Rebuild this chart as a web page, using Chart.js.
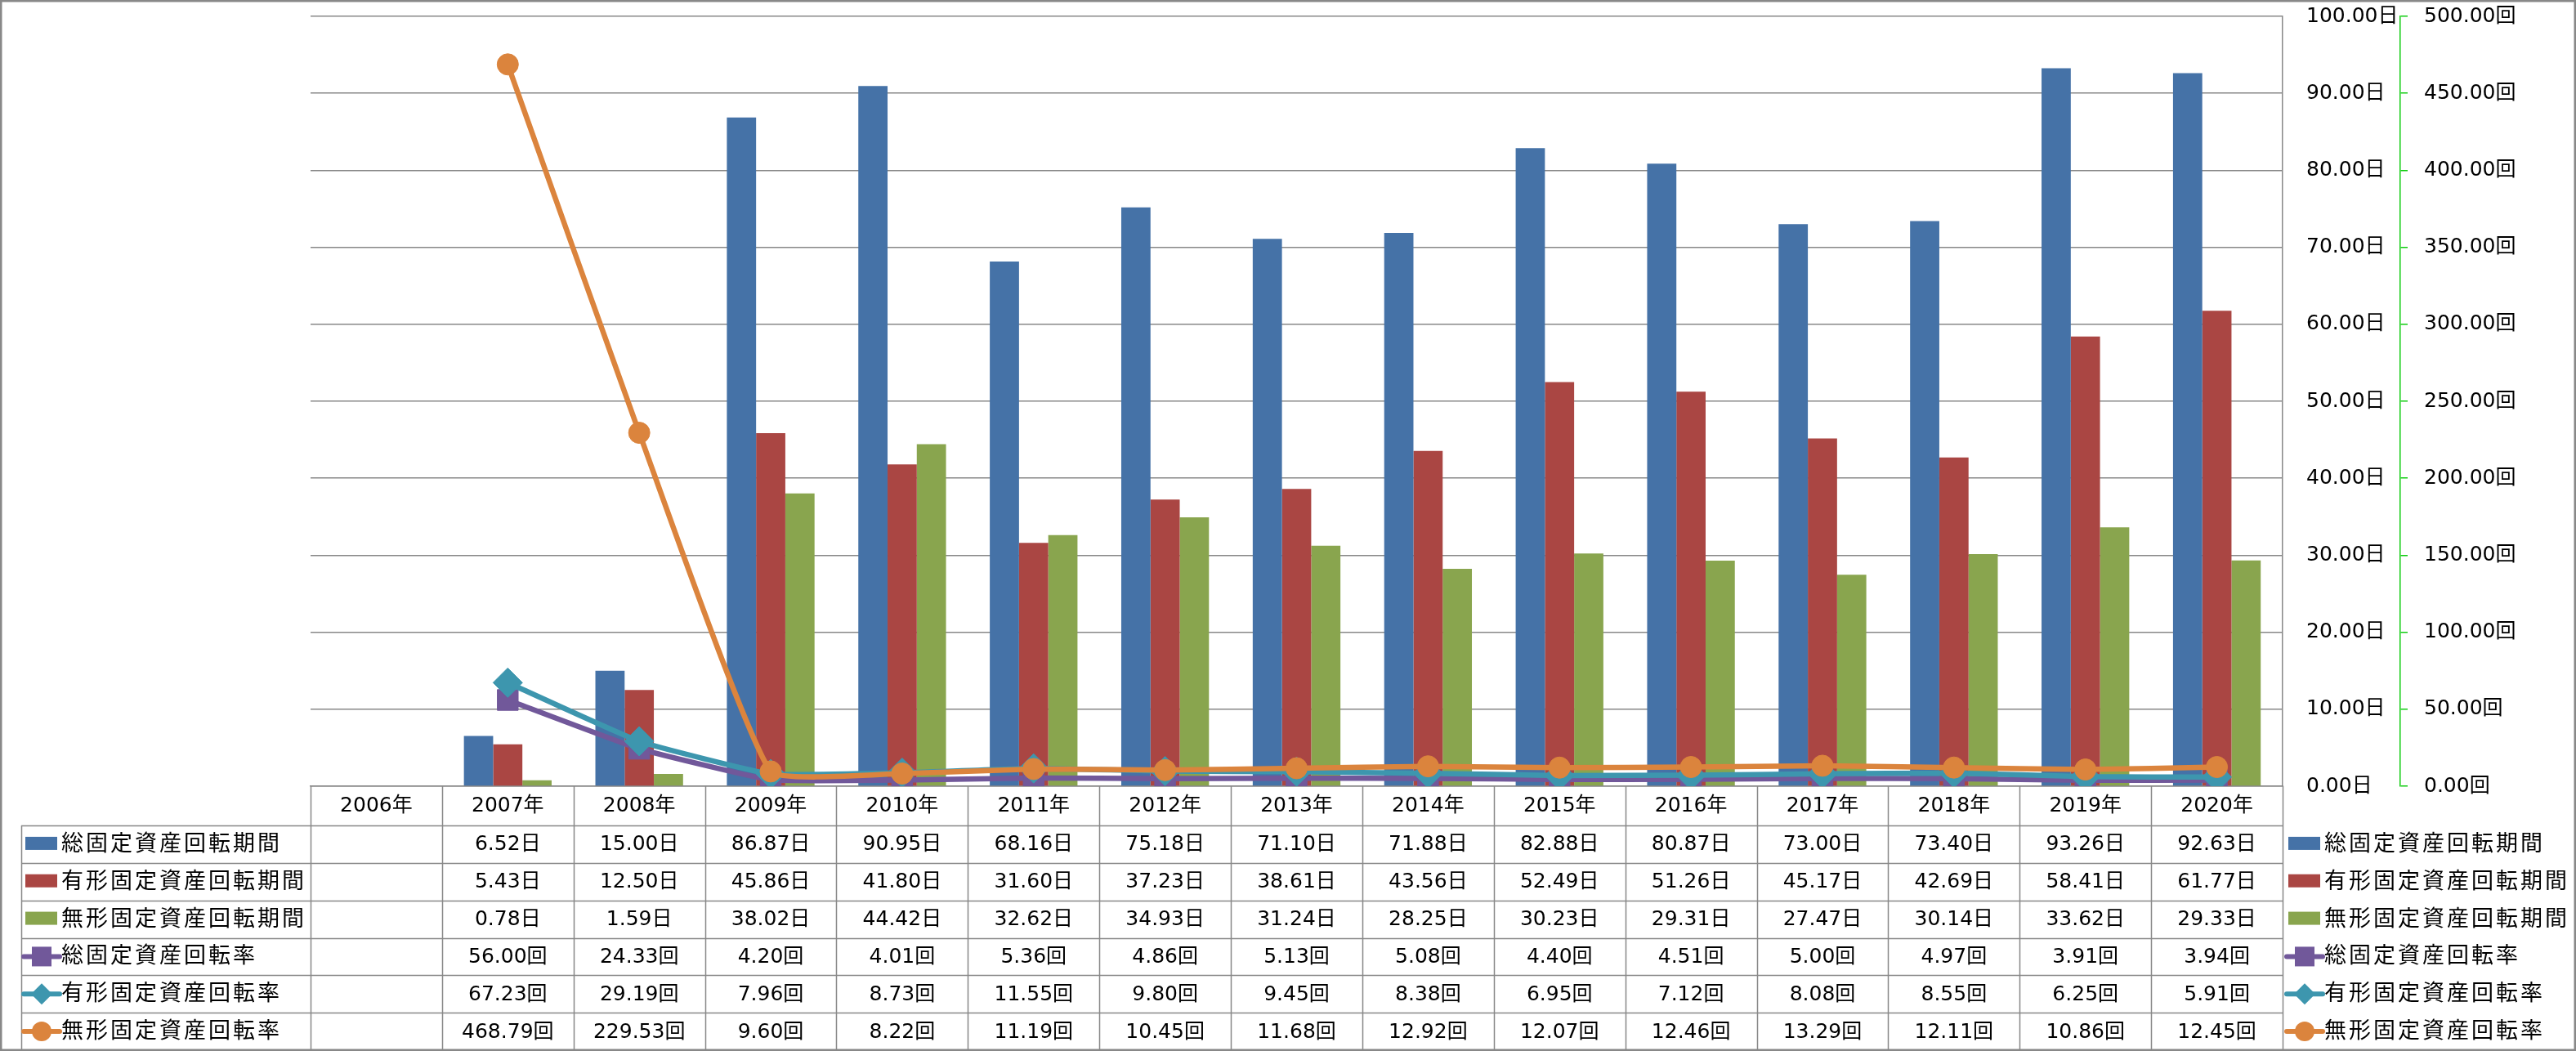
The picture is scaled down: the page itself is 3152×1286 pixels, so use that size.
<!DOCTYPE html>
<html lang="ja">
<head>
<meta charset="utf-8">
<title>固定資産回転期間・回転率</title>
<script src="https://cdn.jsdelivr.net/npm/chart.js@4.4.1/dist/chart.umd.min.js"></script>
<style>
  html, body { margin: 0; padding: 0; background: #fff; }
  #wrap { width: 3152px; height: 1286px; }
</style>
</head>
<body>
<div id="wrap"><canvas id="chart" width="3152" height="1286"></canvas></div>
<script>
const years = ['2006年', '2007年', '2008年', '2009年', '2010年', '2011年', '2012年', '2013年',
  '2014年', '2015年', '2016年', '2017年', '2018年', '2019年', '2020年'];

// 回転期間（日）
const totalPeriod = [null, 6.52, 15.00, 86.87, 90.95, 68.16, 75.18, 71.10, 71.88, 82.88, 80.87, 73.00, 73.40, 93.26, 92.63];
const tangiblePeriod = [null, 5.43, 12.50, 45.86, 41.80, 31.60, 37.23, 38.61, 43.56, 52.49, 51.26, 45.17, 42.69, 58.41, 61.77];
const intangiblePeriod = [null, 0.78, 1.59, 38.02, 44.42, 32.62, 34.93, 31.24, 28.25, 30.23, 29.31, 27.47, 30.14, 33.62, 29.33];

// 回転率（回）
const totalTurnover = [null, 56.00, 24.33, 4.20, 4.01, 5.36, 4.86, 5.13, 5.08, 4.40, 4.51, 5.00, 4.97, 3.91, 3.94];
const tangibleTurnover = [null, 67.23, 29.19, 7.96, 8.73, 11.55, 9.80, 9.45, 8.38, 6.95, 7.12, 8.08, 8.55, 6.25, 5.91];
const intangibleTurnover = [null, 468.79, 229.53, 9.60, 8.22, 11.19, 10.45, 11.68, 12.92, 12.07, 12.46, 13.29, 12.11, 10.86, 12.45];

const dayTicks = { min: 0, max: 100, step: 10 };
const timesTicks = { min: 0, max: 500, step: 50 };

const FONT = '"DejaVu Sans", "Noto Sans CJK JP", sans-serif';
const GRID = '#888888';
const AXIS2 = '#11cc11';

const rows = [
  { label: '総固定資産回転期間', kind: 'bar', color: '#4572A7', values: totalPeriod, unit: '日' },
  { label: '有形固定資産回転期間', kind: 'bar', color: '#AA4643', values: tangiblePeriod, unit: '日' },
  { label: '無形固定資産回転期間', kind: 'bar', color: '#89A54E', values: intangiblePeriod, unit: '日' },
  { label: '総固定資産回転率', kind: 'line', marker: 'rect', color: '#71589A', values: totalTurnover, unit: '回' },
  { label: '有形固定資産回転率', kind: 'line', marker: 'rectRot', color: '#3D96AE', values: tangibleTurnover, unit: '回' },
  { label: '無形固定資産回転率', kind: 'line', marker: 'circle', color: '#DB843D', values: intangibleTurnover, unit: '回' }
];

function drawKey(ctx, row, x0, cy) {
  ctx.save();
  ctx.fillStyle = row.color;
  ctx.strokeStyle = row.color;
  if (row.kind === 'bar') {
    ctx.fillRect(x0, cy - 9, 39, 16);
  } else {
    const mx = x0 + 20;
    ctx.lineWidth = 6;
    ctx.lineCap = 'round';
    ctx.beginPath();
    ctx.moveTo(x0 - 2, cy);
    ctx.lineTo(x0 + 42, cy);
    ctx.stroke();
    ctx.beginPath();
    if (row.marker === 'rect') {
      ctx.rect(mx - 12, cy - 12, 24, 24);
    } else if (row.marker === 'rectRot') {
      ctx.moveTo(mx, cy - 13);
      ctx.lineTo(mx + 13, cy);
      ctx.lineTo(mx, cy + 13);
      ctx.lineTo(mx - 13, cy);
      ctx.closePath();
    } else {
      ctx.arc(mx, cy, 12, 0, Math.PI * 2);
    }
    ctx.fill();
  }
  ctx.restore();
}

// データテーブルと凡例
const dataTable = {
  id: 'dataTable',
  afterDraw(chart) {
    const ctx = chart.ctx;
    const xs = chart.scales.x;
    const area = chart.chartArea;
    const n = years.length;
    const colW = (xs.right - xs.left) / n;
    const headTop = area.bottom;
    const headBottom = headTop + 48;
    const tableBottom = chart.height - 1;
    const rowH = (tableBottom - headBottom) / rows.length;
    const labelLeft = 26;

    ctx.save();
    ctx.strokeStyle = GRID;
    ctx.lineWidth = 1.5;

    // 縦線
    for (let i = 0; i <= n; i++) {
      const x = Math.round(xs.left + i * colW) + 0.5;
      ctx.beginPath();
      ctx.moveTo(x, headTop);
      ctx.lineTo(x, tableBottom);
      ctx.stroke();
    }
    ctx.beginPath();
    ctx.moveTo(labelLeft + 0.5, headBottom);
    ctx.lineTo(labelLeft + 0.5, tableBottom);
    ctx.stroke();

    // 横線
    for (let r = 0; r < rows.length; r++) {
      const y = Math.round(headBottom + r * rowH) + 0.5;
      ctx.beginPath();
      ctx.moveTo(labelLeft, y);
      ctx.lineTo(xs.right, y);
      ctx.stroke();
    }

    ctx.fillStyle = '#000';
    ctx.textBaseline = 'middle';
    rows.forEach((row, r) => {
      const cy = headBottom + r * rowH + rowH / 2;
      ctx.font = '25px ' + FONT;
      ctx.textAlign = 'center';
      row.values.forEach((v, i) => {
        if (v === null) return;
        ctx.fillText(v.toFixed(2) + row.unit, xs.getPixelForValue(i), cy + 1);
      });

      // 行ラベル
      drawKey(ctx, row, 31, cy);
      ctx.font = '27px ' + FONT;
      ctx.textAlign = 'left';
      ctx.letterSpacing = '3px';
      ctx.fillText(row.label, 75, cy + 1);

      // 右側の凡例
      drawKey(ctx, row, 2800, cy);
      ctx.fillText(row.label, 2844, cy + 1);
      ctx.letterSpacing = '0px';
    });
    ctx.restore();
  }
};

const frame = {
  id: 'frame',
  afterDraw(chart) {
    const ctx = chart.ctx;
    ctx.save();
    ctx.strokeStyle = GRID;
    ctx.lineWidth = 2.5;
    ctx.strokeRect(1.25, 1.25, chart.width - 2.5, chart.height - 2.5);
    ctx.restore();
  }
};

function barSet(row, order) {
  return {
    type: 'bar',
    label: row.label,
    data: row.values,
    backgroundColor: row.color,
    yAxisID: 'y',
    order: order,
    barPercentage: 1,
    categoryPercentage: 0.667
  };
}

function lineSet(row, order, radius) {
  return {
    type: 'line',
    label: row.label,
    data: row.values,
    yAxisID: 'y2',
    borderColor: row.color,
    backgroundColor: row.color,
    borderWidth: 6.5,
    pointStyle: row.marker,
    pointRadius: radius,
    pointBorderWidth: 1,
    pointBorderColor: row.color,
    pointBackgroundColor: row.color,
    tension: 0.12,
    order: order
  };
}

// 縦軸のラベル余白が描画領域を狭めないようにする
function fitRight(width) {
  return s => {
    s.width = width;
    s.paddingTop = 14;
    s.paddingBottom = 14;
  };
}

Chart.defaults.font.family = FONT;
Chart.defaults.color = '#000';

new Chart(document.getElementById('chart'), {
  type: 'bar',
  data: {
    labels: years,
    datasets: [
      barSet(rows[0], 10),
      barSet(rows[1], 11),
      barSet(rows[2], 12),
      lineSet(rows[3], 3, 18),
      lineSet(rows[4], 2, 18),
      lineSet(rows[5], 1, 13)
    ]
  },
  options: {
    responsive: false,
    animation: false,
    layout: { padding: { left: 380, top: 20, right: 2, bottom: 0 } },
    plugins: {
      legend: { display: false },
      tooltip: { enabled: false }
    },
    scales: {
      x: {
        grid: { display: false, drawTicks: false },
        border: { display: true, color: GRID, width: 1.5 },
        ticks: { font: { size: 25 }, padding: 9, maxRotation: 0, autoSkip: false },
        afterFit: s => { s.height = 324; }
      },
      y: {
        position: 'right',
        min: dayTicks.min,
        max: dayTicks.max,
        ticks: { stepSize: dayTicks.step, padding: 29, font: { size: 25 }, callback: v => v.toFixed(2) + '日' },
        grid: { color: GRID, lineWidth: 1.5, drawTicks: false },
        border: { display: true, color: GRID, width: 1.5 },
        afterFit: fitRight(144)
      },
      y2: {
        position: 'right',
        min: timesTicks.min,
        max: timesTicks.max,
        ticks: { stepSize: timesTicks.step, padding: 20, font: { size: 25 }, callback: v => v.toFixed(2) + '回' },
        grid: { drawOnChartArea: false, drawTicks: true, tickLength: 9, color: AXIS2, lineWidth: 1.5 },
        border: { display: true, color: AXIS2, width: 1.5, dash: [4, 3] },
        afterFit: fitRight(213)
      }
    }
  },
  plugins: [dataTable, frame]
});
</script>
</body>
</html>
